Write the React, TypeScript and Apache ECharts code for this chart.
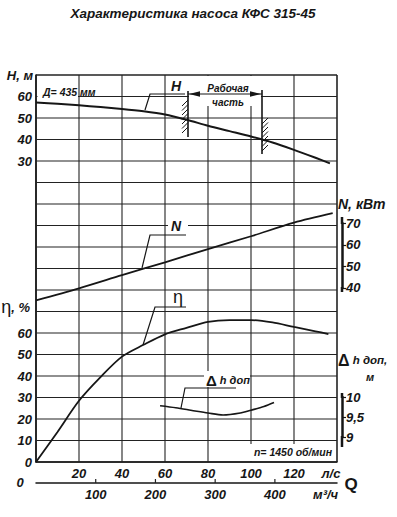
import React, { useEffect, useRef } from "react";
import * as echarts from "echarts";

// Q in l/s
const headQ = [0, 10, 20, 30, 40, 50, 60, 70, 80, 90, 100, 110, 120, 130, 136.7];
const headH = [57.2, 56.6, 55.9, 55.1, 54.2, 53.1, 51.6, 49.2, 46.4, 43.9, 41.4, 38.6, 35.2, 31.5, 28.9];

const powerQ = [0, 20, 40, 60, 80, 100, 120, 138];
const powerN = [34.2, 39.8, 45.9, 51.9, 58.0, 64.0, 70.3, 74.7];

const effQ = [0, 10, 20, 30, 40, 50, 60, 70, 80, 90, 100, 110, 120, 130, 136];
const effEta = [0, 14, 28.5, 39.5, 49, 54.5, 59.4, 62.4, 65.2, 66, 66, 64.9, 62.8, 60.8, 59.5];

const npshQ = [57.7, 65, 72, 80, 87, 95, 100, 106, 110.7];
const npshH = [9.78, 9.73, 9.67, 9.6, 9.55, 9.6, 9.67, 9.76, 9.86];

// grid lines (Q in l/s, rows on the η scale) and m³/h ticks
const gridQ = [0, 20, 40, 60, 80, 100, 120, 140];
const gridEta = [0, 10, 20, 30, 40, 50, 60, 70, 80, 90, 100, 110, 120, 130, 140, 150, 160, 170, 180];
const qM3Ticks = [100, 200, 300, 400];

const qLsRange = [0, 140];
const qM3Range = [0, 504];
const etaShown = [0, 60];
const headShown = [30, 60];
const powerRange = [40, 70];
const npshRange = [9, 10];

const zip = (a: number[], b: number[]) => a.map((v, i) => [v, b[i]]);

const F = "'Liberation Sans', Arial, sans-serif";
const INK = "#161616";
const lbl = { fontFamily: F, fontStyle: "italic" as const, fontWeight: "bold" as const, fontSize: 13, color: INK };

const txt = (text: string, x: number, y: number, o: any = {}) => ({
  type: "text",
  x,
  y,
  z: 60,
  style: {
    text,
    fontFamily: F,
    fontStyle: "italic",
    fontWeight: "bold",
    fontSize: 13,
    fill: INK,
    align: "center",
    verticalAlign: "middle",
    ...o,
  },
});
const seg = (x1: number, y1: number, x2: number, y2: number, w = 1.2) => ({
  type: "line",
  z: 60,
  shape: { x1, y1, x2, y2 },
  style: { stroke: INK, lineWidth: w },
});
const poly = (points: number[][], w = 1.2) => ({
  type: "polyline",
  z: 60,
  shape: { points },
  style: { stroke: INK, lineWidth: w, fill: null },
});
const box = (x: number, y: number, width: number, height: number) => ({
  type: "rect",
  z: 55,
  shape: { x, y, width, height },
  style: { fill: "#fff" },
});

// hatching strokes "////" beside a vertical limit line; side -1 = left, 1 = right
function hatch(xLine: number, y0: number, y1: number, side: number) {
  const out: any[] = [];
  for (let y = y0; y <= y1; y += 4.5) {
    if (side < 0) out.push(seg(xLine - 6, y + 6, xLine, y, 1));
    else out.push(seg(xLine, y + 6, xLine + 6, y, 1));
  }
  return out;
}

const annotations: any[] = [
  box(37.5, 77, 40.5, 20),
  box(189, 76, 72, 30),
  box(168, 218, 20, 15),
  box(204, 371, 46, 16),
  box(250, 444, 86, 17),
  // axis line overhangs of the short right scales
  seg(342, 217, 342, 224, 2.5),
  seg(342, 287, 342, 292, 2.5),
  seg(342, 393, 342, 398, 2.5),
  seg(342, 436, 342, 447, 2.5),
  txt("Характеристика насоса КФС 315-45", 193, 13, { fontSize: 13.5 }),
  txt("H, м", 33, 75, { align: "right" }),
  txt("{g|η}{t|, %}", 30, 307, {
    align: "right",
    rich: {
      g: { fontFamily: F, fontSize: 18, fill: INK, fontStyle: "normal", fontWeight: "normal" },
      t: { fontFamily: F, fontSize: 13, fill: INK, fontStyle: "italic", fontWeight: "bold" },
    },
  }),
  txt("Д= 435 мм", 43, 92, { align: "left", fontSize: 10.5 }),
  txt("H", 176, 86, { fontSize: 14 }),
  poly([[145, 110], [150, 94], [185, 94]]),
  txt("Рабочая", 228, 88, { fontSize: 10 }),
  txt("часть", 228, 102, { fontSize: 10 }),
  seg(188, 94, 262, 94, 1.2),
  { type: "polygon", z: 61, shape: { points: [[189, 94], [200, 91.3], [200, 96.7]] }, style: { fill: INK } },
  { type: "polygon", z: 61, shape: { points: [[261, 94], [250, 91.3], [250, 96.7]] }, style: { fill: INK } },
  seg(188, 91, 188, 137, 1.6),
  seg(262, 90, 262, 154, 1.6),
  ...hatch(188, 100, 130, -1),
  ...hatch(262, 118, 146, 1),
  txt("N", 176, 226, { fontSize: 14 }),
  poly([[142, 268], [150, 235], [186, 235]]),
  txt("η", 178, 297, { fontSize: 18, fontStyle: "normal", fontWeight: "normal" }),
  poly([[143, 345], [155, 307], [186, 307]]),
  txt("{d|Δ}{t| h доп}", 206, 380, {
    align: "left",
    rich: {
      d: { fontFamily: F, fontSize: 15, fill: INK, fontWeight: "bold", fontStyle: "normal" },
      t: { fontFamily: F, fontSize: 11, fill: INK, fontStyle: "italic", fontWeight: "bold" },
    },
  }),
  poly([[181, 408], [185, 388], [236, 388]]),
  txt("N, кВт", 338, 204, { align: "left", fontSize: 14 }),
  txt("{d|Δ}{t| h доп,}", 338, 360, {
    align: "left",
    rich: {
      d: { fontFamily: F, fontSize: 16, fill: INK, fontWeight: "bold", fontStyle: "normal" },
      t: { fontFamily: F, fontSize: 11.5, fill: INK, fontStyle: "italic", fontWeight: "bold" },
    },
  }),
  txt("м", 370, 377, { fontSize: 11 }),
  txt("n= 1450 об/мин", 293, 452, { fontSize: 10.5 }),
  txt("0", 20, 482),
  txt("Q", 351, 484, { fontSize: 17, fontStyle: "normal" }),
];

// a straight rule drawn as a two-point line series through the axes' scales
const rule = (data: number[][], w: number, xi = 0, yi = 0) => ({
  type: "line",
  xAxisIndex: xi,
  yAxisIndex: yi,
  data,
  showSymbol: false,
  symbol: "none",
  lineStyle: { color: "#222", width: w },
  silent: true,
  clip: false,
  z: 2,
});

export default function App() {
  const ref = useRef<HTMLDivElement>(null);
  useEffect(() => {
    const chart = echarts.init(ref.current!, null, { renderer: "svg" });
    const gridBase = { left: 36, width: 301 };
    const lineSt = (w: number) => ({ color: INK, width: w });
    const gridRules = [
      ...gridQ.map((q, i) => rule([[q, gridEta[0]], [q, gridEta[gridEta.length - 1]]], i === 0 || i === gridQ.length - 1 ? 1.6 : 1.1)),
      ...gridEta.map((e, i) => rule([[gridQ[0], e], [gridQ[gridQ.length - 1], e]], i === 0 || i === gridEta.length - 1 ? 1.6 : 1.1)),
      ...qM3Ticks.map((v) => rule([[v, 0], [v, 4]], 1.2, 3, 5)),
    ];
    const option: any = {
      animation: false,
      grid: [
        { ...gridBase, top: 75, height: 387 },
        { ...gridBase, top: 223.35, height: 64.5 },
        { ...gridBase, top: 397, height: 40 },
        { ...gridBase, top: 482, height: 1 },
      ],
      xAxis: [
        {
          gridIndex: 0,
          type: "value",
          min: qLsRange[0],
          max: qLsRange[1],
          interval: 20,
          position: "bottom",
          axisLine: { show: true, onZero: false, lineStyle: lineSt(1.6) },
          axisTick: { show: false },
          splitLine: { show: false },
          axisLabel: {
            ...lbl,
            margin: 5,
            showMinLabel: true,
            showMaxLabel: true,
            formatter: (v: number) => (v === 0 ? "" : v === 140 ? "{u|л/с}" : String(v)),
            rich: { u: { ...lbl, padding: [0, 12, 0, 0] } },
          },
        },
        { gridIndex: 1, type: "value", min: 0, max: 140, show: false },
        { gridIndex: 2, type: "value", min: 0, max: 140, show: false },
        {
          gridIndex: 3,
          type: "value",
          min: qM3Range[0],
          max: qM3Range[1],
          interval: 100,
          position: "bottom",
          axisLine: { show: true, onZero: false, lineStyle: { color: INK, width: 1.5 } },
          axisTick: { show: false },
          splitLine: { show: false },
          axisLabel: {
            ...lbl,
            margin: 5,
            showMinLabel: false,
            showMaxLabel: false,
            formatter: (v: number) => (v === 0 || v === 504 ? "" : v === 500 ? "{u|м³/ч}" : String(v)),
            rich: { u: { ...lbl, padding: [0, 18, 0, 0] } },
          },
        },
      ],
      yAxis: [
        {
          gridIndex: 0,
          type: "value",
          min: 0,
          max: 180,
          interval: 10,
          position: "left",
          axisLine: { show: true, onZero: false, lineStyle: lineSt(1.6) },
          axisTick: { show: false },
          splitLine: { show: false },
          axisLabel: { ...lbl, margin: 4, showMinLabel: true, formatter: (v: number) => (v >= etaShown[0] && v <= etaShown[1] ? String(v) : "") },
        },
        {
          gridIndex: 0,
          type: "value",
          min: -110,
          max: 70,
          interval: 10,
          position: "left",
          axisLine: { show: false, onZero: false },
          axisTick: { show: false },
          splitLine: { show: false },
          axisLabel: { ...lbl, margin: 4, formatter: (v: number) => (v >= headShown[0] && v <= headShown[1] ? String(v) : "") },
        },
        { gridIndex: 0, type: "value", min: -41, max: 139, show: false },
        {
          gridIndex: 1,
          type: "value",
          min: powerRange[0],
          max: powerRange[1],
          interval: 10,
          position: "right",
          offset: 5,
          axisLine: { show: true, onZero: false, lineStyle: lineSt(2.5) },
          axisTick: { show: true, length: 4, lineStyle: lineSt(1.2) },
          splitLine: { show: false },
          axisLabel: { ...lbl, margin: 4, showMinLabel: true, showMaxLabel: true },
        },
        {
          gridIndex: 2,
          type: "value",
          min: npshRange[0],
          max: npshRange[1],
          interval: 0.5,
          position: "right",
          offset: 5,
          axisLine: { show: true, onZero: false, lineStyle: lineSt(2.5) },
          axisTick: { show: true, length: 4, lineStyle: lineSt(1.2) },
          splitLine: { show: false },
          axisLabel: { ...lbl, margin: 4, showMinLabel: true, showMaxLabel: true, formatter: (v: number) => String(v).replace(".", ",") },
        },
        { gridIndex: 3, type: "value", min: 0, max: 1, show: false },
      ],
      series: [
        ...gridRules,
        { type: "line", name: "H", xAxisIndex: 0, yAxisIndex: 1, data: zip(headQ, headH), smooth: 0.3, showSymbol: false, symbol: "none", lineStyle: lineSt(2), silent: true, z: 5 },
        { type: "line", name: "N", xAxisIndex: 0, yAxisIndex: 2, data: zip(powerQ, powerN), smooth: 0.3, showSymbol: false, symbol: "none", lineStyle: lineSt(1.8), silent: true, z: 5 },
        { type: "line", name: "η", xAxisIndex: 0, yAxisIndex: 0, data: zip(effQ, effEta), smooth: 0.3, showSymbol: false, symbol: "none", lineStyle: lineSt(1.8), silent: true, z: 5 },
        { type: "line", name: "Δh доп", xAxisIndex: 2, yAxisIndex: 4, data: zip(npshQ, npshH), smooth: 0.3, showSymbol: false, symbol: "none", lineStyle: lineSt(1.6), silent: true, z: 5 },
      ],
      graphic: { elements: annotations },
    };
    chart.setOption(option);
    return () => chart.dispose();
  }, []);
  return <div ref={ref} style={{ position: "fixed", left: 0, top: 0, width: 397, height: 517, background: "#fff" }} />;
}
